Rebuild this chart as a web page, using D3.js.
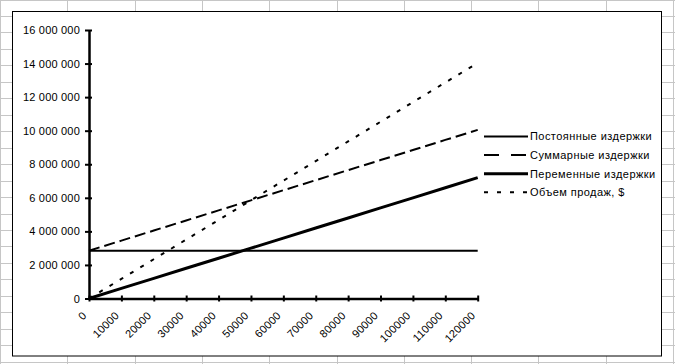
<!DOCTYPE html>
<html lang="ru">
<head>
<meta charset="UTF-8">
<title>Точка безубыточности</title>
<style>
    body { margin: 0; background: #fff; }
    #grafico { display: block; }
    .rotulo, .legenda text { font-family: "Liberation Sans", Arial, sans-serif; font-size: 11px; fill: #000; }
    .rotulo { letter-spacing: 0.2px; }
    .legenda text { letter-spacing: 0.45px; }
</style>
<script src="https://cdn.jsdelivr.net/npm/d3@7"></script>
</head>
<body>
<svg id="grafico" width="675" height="364"></svg>
<script>
// данные
const categorias = [0, 10000, 20000, 30000, 40000, 50000, 60000, 70000, 80000, 90000, 100000, 110000, 120000];
const postoyannye = [2850000, 2850000, 2850000, 2850000, 2850000, 2850000, 2850000, 2850000, 2850000, 2850000, 2850000, 2850000, 2850000];
const peremennye = [0, 600000, 1200000, 1800000, 2400000, 3000000, 3600000, 4200000, 4800000, 5400000, 6000000, 6600000, 7200000];
const summarnye = [2850000, 3450000, 4050000, 4650000, 5250000, 5850000, 6450000, 7050000, 7650000, 8250000, 8850000, 9450000, 10050000];
const prodazhi = [0, 1170000, 2340000, 3510000, 4680000, 5850000, 7020000, 8190000, 9360000, 10530000, 11700000, 12870000, 14040000];
const yTicks = [0, 2000000, 4000000, 6000000, 8000000, 10000000, 12000000, 14000000, 16000000];

const series = [
    { nome: 'Постоянные издержки', vals: postoyannye, w: 2, dash: null, legDash: null },
    { nome: 'Суммарные издержки', vals: summarnye, w: 2, dash: '11,5', legDash: '15,12' },
    { nome: 'Переменные издержки', vals: peremennye, w: 3, dash: null, legDash: null },
    { nome: 'Объем продаж, $', vals: prodazhi, w: 2, dash: '4,8', legDash: '4,9' }
];

const svg = d3.select('#grafico');
const W = 675, H = 364;

// сетка листа Excel
const fundo = svg.append('g');
fundo.selectAll('.col').data(d3.range(0, 11)).enter().append('line')
    .attr('x1', i => Math.round(i * 67.3) + 0.5).attr('x2', i => Math.round(i * 67.3) + 0.5)
    .attr('y1', 0).attr('y2', H).attr('stroke', '#c6c6c6');
fundo.selectAll('.row').data(d3.range(0, 23)).enter().append('line')
    .attr('y1', i => Math.round(i * 16.46 - 0.46) + 0.5).attr('y2', i => Math.round(i * 16.46 - 0.46) + 0.5)
    .attr('x1', 0).attr('x2', W).attr('stroke', '#c6c6c6');

// область диаграммы
svg.append('rect').attr('x', 12.5).attr('y', 11.5).attr('width', 649).attr('height', 344.5)
    .attr('fill', '#fff').attr('stroke', '#000').attr('stroke-width', 1);

const fnX = d3.scalePoint().domain(categorias).range([89, 477.7]);
const fnY = d3.scaleLinear().domain([0, 16000000]).range([298.5, 30]);

const fmt = d => d3.format(',')(d).replace(/,/g, ' ');

// ось Y
svg.append('g').attr('transform', 'translate(89,0)')
    .call(d3.axisLeft(fnY).tickValues(yTicks).tickFormat(fmt).tickSizeInner(4).tickSizeOuter(0).tickPadding(5))
    .call(g => {
        g.select('.domain').attr('stroke-width', 2.5);
        g.selectAll('.tick line').attr('stroke-width', 2).attr('x2', -4).attr('x1', 3);
        g.selectAll('.tick text').attr('class', 'rotulo').attr('font-family', null).attr('font-size', null);
    });

// ось X
svg.append('g').attr('transform', 'translate(0,' + fnY(0) + ')')
    .call(d3.axisBottom(fnX).tickSizeInner(3).tickSizeOuter(0).tickPadding(0))
    .call(g => {
        g.select('.domain').attr('stroke-width', 2.5);
        g.selectAll('.tick line').attr('stroke-width', 2).attr('y1', -3).attr('y2', 3);
        g.selectAll('.tick text').attr('class', 'rotulo').attr('font-family', null).attr('font-size', null)
            .attr('text-anchor', 'end').attr('dy', '0.35em')
            .attr('transform', 'translate(-5,15) rotate(-45)').attr('y', 0);
    });

// линии
const linha = vals => d3.line().x((d, i) => fnX(categorias[i])).y(d => fnY(d))(vals);
svg.selectAll('.serie').data(series).enter().append('path')
    .attr('d', s => linha(s.vals))
    .attr('fill', 'none').attr('stroke', '#000')
    .attr('stroke-width', s => s.w)
    .attr('stroke-dasharray', s => s.dash);

// легенда
const leg = svg.append('g').attr('class', 'legenda');
const legY = i => 136.5 + i * 18.6;
leg.selectAll('line').data(series).enter().append('line')
    .attr('x1', 484).attr('x2', 528)
    .attr('y1', (s, i) => legY(i)).attr('y2', (s, i) => legY(i))
    .attr('stroke', '#000').attr('stroke-width', s => s.w)
    .attr('stroke-dasharray', s => s.legDash);
leg.selectAll('text').data(series).enter().append('text')
    .attr('x', 530).attr('y', (s, i) => legY(i)).attr('dy', '0.35em')
    .text(s => s.nome);
</script>
</body>
</html>
